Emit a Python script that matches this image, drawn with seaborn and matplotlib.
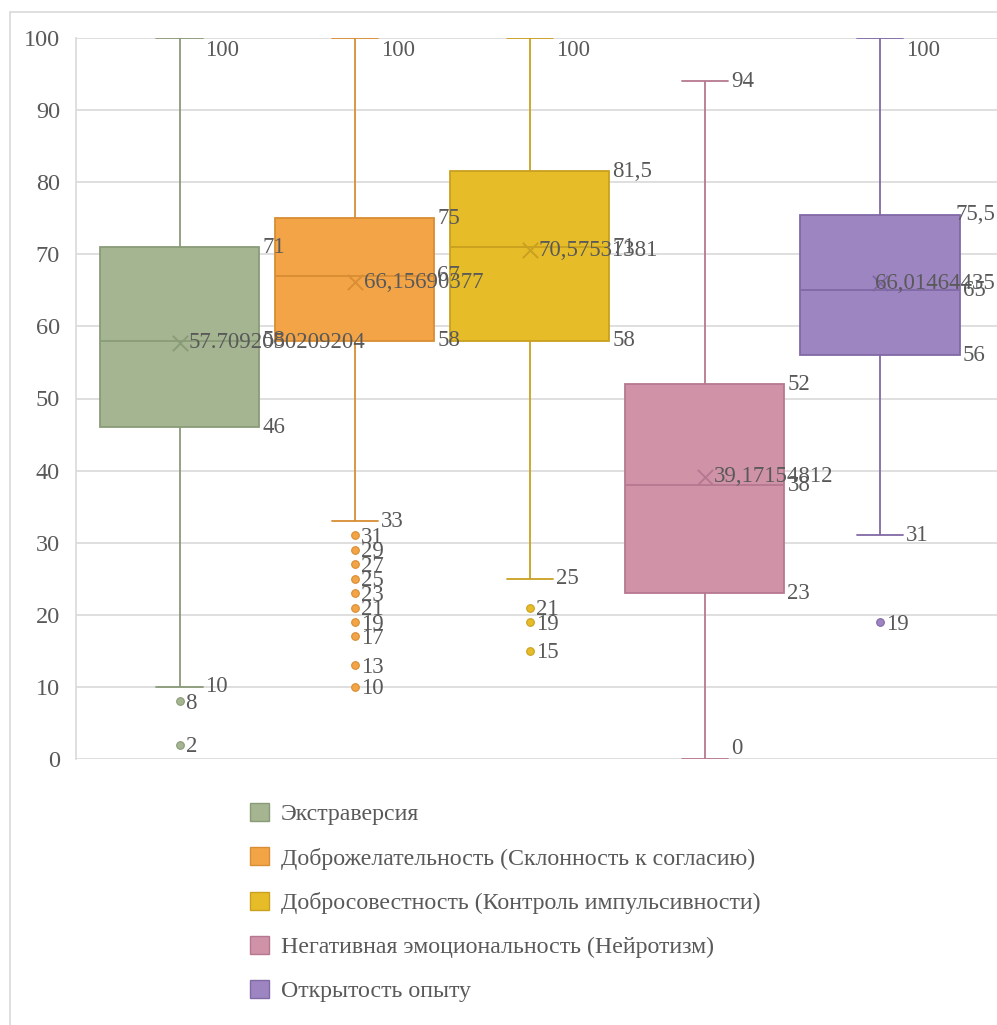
import numpy as np
import pandas as pd
import matplotlib.pyplot as plt
import seaborn as sns
from matplotlib.patches import Patch
from matplotlib.lines import Line2D

labels = ['Экстраверсия',
          'Доброжелательность (Склонность к согласию)',
          'Добросовестность (Контроль импульсивности)',
          'Негативная эмоциональность (Нейротизм)',
          'Открытость опыту']
whisk_low = [10, 33, 25, 0, 31]
q1 = [46, 58, 58, 23, 56]
median = [58, 67, 71, 38, 65]
q3 = [71, 75, 81.5, 52, 75.5]
whisk_high = [100, 100, 100, 94, 100]
means = [57.7092050209204, 66.15690377, 70.57531381, 39.17154812, 66.01464435]
mean_text = ['57.7092050209204', '66,15690377', '70,57531381', '39,17154812', '66,01464435']
outliers = [[8, 2],
            [31, 29, 27, 25, 23, 21, 19, 17, 13, 10],
            [21, 19, 15],
            [],
            [19]]
y_ticks = list(range(0, 101, 10))

fills = ['#A5B592', '#F3A447', '#E7BC29', '#D092A7', '#9C85C0']
edges = ['#8A9B77', '#D98D34', '#C9A020', '#B57890', '#8169A6']

# стиль =====================================================================
sns.set_theme(style="white")
plt.rcParams['font.family'] = ['Liberation Serif', 'DejaVu Serif']
txt_color = '#595959'
grid_color = '#D9D9D9'
fs = 16.5

fig = plt.figure(figsize=(9.97, 10.25), dpi=100)
ax = fig.add_axes([76 / 997, 1 - 759 / 1025, 921 / 997, 721 / 1025])

# рамка всей диаграммы
fig.add_artist(Line2D([10 / 997, 1], [1 - 12 / 1025] * 2, color=grid_color, lw=1.2))
fig.add_artist(Line2D([10 / 997] * 2, [0, 1 - 12 / 1025], color=grid_color, lw=1.2))

box_w = 0.91
cap_w = 0.263

for i, lab in enumerate(labels):
    stats = [whisk_low[i], q1[i], median[i], q3[i], whisk_high[i]]
    box_df = pd.DataFrame({'trait': lab, 'value': stats})
    sns.boxplot(data=box_df, x='trait', y='value', order=labels,
                color=fills[i], linecolor=edges[i], width=box_w,
                whis=(0, 100), showfliers=False, linewidth=1.3,
                capwidths=cap_w, saturation=1, ax=ax)
    if outliers[i]:
        out_df = pd.DataFrame({'trait': lab, 'value': outliers[i]})
        sns.stripplot(data=out_df, x='trait', y='value', order=labels,
                      color=fills[i], edgecolor=edges[i], linewidth=0.8,
                      jitter=False, size=5.5, ax=ax, zorder=4)
    mean_df = pd.DataFrame({'trait': [lab], 'value': [means[i]]})
    sns.stripplot(data=mean_df, x='trait', y='value', order=labels,
                  color=edges[i], marker='x', linewidth=1.4,
                  jitter=False, size=11, ax=ax, zorder=4)

# оси
ax.set_ylim(0, 100)
ax.set_xlim((76 - 179.5) / 175.1, (997 - 179.5) / 175.1)
ax.set_yticks(y_ticks)
ax.set_yticklabels([str(t) for t in y_ticks], fontsize=17.5, color=txt_color)
ax.set_xticks([])
ax.set_xlabel('')
ax.set_ylabel('')
ax.tick_params(axis='y', length=0, pad=11.5)
ax.grid(axis='y', color=grid_color, lw=1.2)
ax.set_axisbelow(True)
for side in ['top', 'right', 'bottom']:
    ax.spines[side].set_visible(False)
ax.spines['left'].set_color(grid_color)
ax.spines['left'].set_linewidth(1.2)


def fmt(v):
    return str(v).replace('.', ',')


def put(x, y, s, dx, dy=0):
    t = ax.annotate(s, (x, y), xytext=(dx, dy), textcoords='offset pixels',
                    ha='left', va='center', fontsize=fs, color=txt_color, zorder=6)
    return t


def put_edge(y, s):
    # как в Excel: подпись, не влезающая справа, прижимается к краю
    ax.annotate(s, (1.0, y), xycoords=('axes fraction', 'data'), xytext=(-2, 0),
                textcoords='offset pixels', ha='right', va='center',
                fontsize=fs, color=txt_color, zorder=6)


fig.canvas.draw()
renderer = fig.canvas.get_renderer()
ax_right = ax.get_window_extent().x1

# подписи данных
for i in range(len(labels)):
    right = i + box_w / 2
    cap_r = i + cap_w / 2
    for v in (q1[i], median[i], q3[i]):
        t = put(right, v, fmt(v), 3)
        if t.get_window_extent(renderer).x1 > ax_right:
            t.remove()
            put_edge(v, fmt(v))
    dy_hi = -12 if whisk_high[i] >= 100 else 0
    put(cap_r, whisk_high[i], fmt(whisk_high[i]), 3, dy_hi)
    dy_lo = 11 if whisk_low[i] <= 0 else 0
    put(cap_r, whisk_low[i], fmt(whisk_low[i]), 3, dy_lo)
    for v in outliers[i]:
        put(i, v, fmt(v), 6, -2)
    t = put(i, means[i], mean_text[i], 9)
    if t.get_window_extent(renderer).x1 > ax_right:
        t.remove()
        put_edge(means[i], mean_text[i])

# легенда
handles = [Patch(facecolor=f, edgecolor=e, lw=1) for f, e in zip(fills, edges)]
fig.legend(handles, labels, loc='upper left', bbox_to_anchor=(250 / 997, 1 - 803 / 1025),
           frameon=False, fontsize=17.2, labelcolor=txt_color,
           handlelength=0.78, handleheight=0.78, handletextpad=0.5,
           labelspacing=0.92, borderpad=0, borderaxespad=0)

plt.savefig('out.png', dpi=100)
